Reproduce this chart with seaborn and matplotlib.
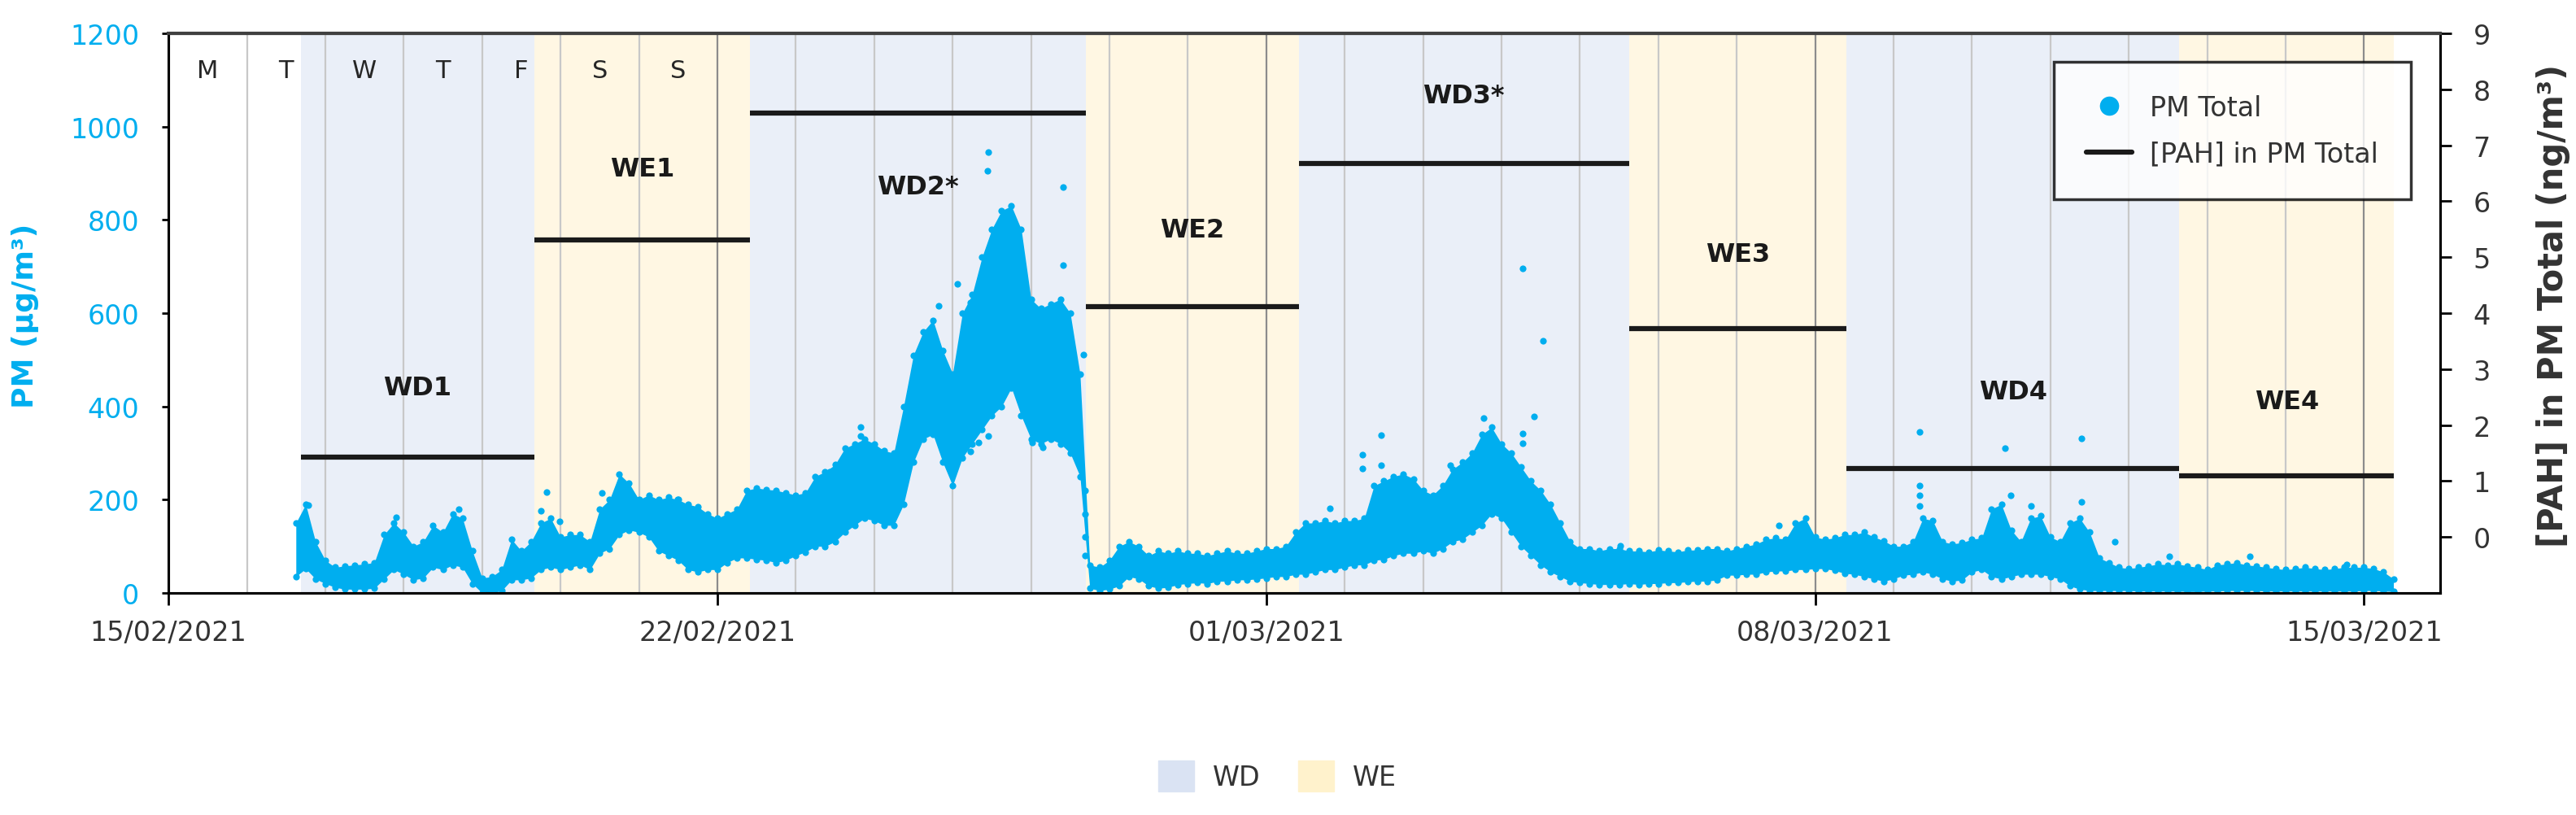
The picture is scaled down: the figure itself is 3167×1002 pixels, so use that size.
import pandas as pd
import seaborn as sns
import matplotlib.pyplot as plt
import matplotlib.dates as mdates
from matplotlib.lines import Line2D
from matplotlib.patches import Patch

# PM Total band, every 3 h from 16/02 15:00 (lower / upper edge, ug/m3)
pm_low = [35, 52, 30, 20, 12, 8, 8, 8, 10, 30, 50, 40, 28, 32, 55, 50, 60, 55, 20, 0,
          0, 5, 28, 28, 32, 50, 55, 50, 55, 60, 50, 85, 95, 125, 135, 130, 120,
          90, 80, 70, 50, 45, 50, 50, 65, 75, 75, 72, 70, 65, 70, 80, 88, 100, 100,
          110, 130, 145, 160, 155, 145, 145, 190, 280, 330, 340, 280, 230, 290, 320, 350, 380, 400,
          440, 380, 330, 320, 330, 320, 300, 250, 10, 5, 8, 15, 35, 30, 15, 10, 12, 18,
          20, 22, 20, 25, 25, 28, 28, 30, 32, 35, 35, 40, 40, 45, 50, 50, 55, 60, 60,
          70, 72, 80, 85, 85, 90, 85, 95, 110, 115, 130, 145, 170, 160, 130, 100, 80, 60,
          45, 35, 25, 22, 20, 18, 18, 18, 20, 18, 20, 20, 22, 22, 24, 25, 25, 28,
          38, 38, 40, 40, 45, 47, 47, 50, 50, 52, 52, 48, 42, 40, 35, 30, 25, 30, 38,
          40, 45, 40, 30, 25, 28, 45, 50, 35, 30, 35, 40, 40, 40, 35, 30, 15, 8,
          5, 5, 5, 5, 5, 4, 4, 4, 4, 4, 3, 3, 4, 4, 5, 5, 5, 5, 4, 4, 4, 4, 4, 4, 4, 4,
          4, 4, 5, 5, 4, 3]
pm_high = [150, 190, 110, 70, 55, 58, 60, 62, 65, 125, 150, 130, 100, 110, 145, 130, 170, 160, 90, 32,
           35, 50, 115, 90, 110, 150, 160, 120, 125, 125, 110, 180, 200, 255, 235, 200, 210,
           200, 205, 200, 190, 185, 170, 160, 170, 180, 220, 225, 222, 220, 215, 210, 215, 250, 260,
           275, 310, 320, 330, 320, 305, 300, 400, 510, 560, 585, 520, 470, 600, 640, 720, 780, 820,
           830, 780, 630, 610, 620, 630, 600, 470, 60, 55, 70, 100, 110, 100, 80, 90, 85, 90,
           85, 85, 80, 85, 90, 85, 85, 90, 95, 95, 100, 130, 150, 150, 155, 150, 155, 155, 160,
           230, 240, 250, 255, 245, 220, 210, 230, 265, 280, 300, 340, 355, 320, 300, 270, 240, 220,
           190, 150, 110, 95, 95, 90, 95, 95, 90, 90, 88, 92, 90, 88, 92, 92, 95, 95,
           90, 95, 100, 105, 115, 118, 115, 150, 160, 120, 115, 118, 125, 125, 130, 120, 112, 100, 100,
           110, 160, 155, 110, 105, 108, 115, 118, 180, 190, 135, 110, 160, 165, 120, 110, 150, 160,
           130, 75, 65, 55, 52, 55, 58, 62, 60, 62, 58, 55, 50, 60, 62, 65, 60, 58, 55, 52,
           50, 52, 55, 52, 50, 52, 55, 55, 55, 52, 45, 30]

# isolated PM points (days after 15/02/2021 00:00, ug/m3)
outlier_day = [1.78, 2.90, 3.70, 4.75, 4.82, 4.99, 5.53, 6.49, 7.19, 8.30, 8.43, 8.83, 8.83,
               9.82, 10.06, 10.23, 10.44, 10.46, 10.23, 10.33, 10.46, 11.41, 11.41, 11.67,
               11.69, 11.69, 11.69, 11.69, 11.01, 11.15, 14.81, 15.23, 15.23, 15.47, 15.47,
               16.35, 16.77, 17.27, 17.53, 17.42, 17.27, 17.27, 18.52, 20.54, 22.33, 22.33,
               22.33, 22.33, 23.42, 23.49, 23.75, 24.40, 24.40, 24.82, 25.52, 26.54, 27.78]
outlier_pm = [189, 163, 180, 177, 216, 154, 215, 201, 161, 234, 260, 356, 336,
              616, 662, 623, 906, 946, 303, 323, 336, 870, 703, 511,
              220, 170, 120, 80, 323, 313, 181, 297, 267, 339, 273,
              273, 375, 696, 540, 378, 342, 321, 102, 145, 346, 230,
              209, 186, 311, 209, 186, 331, 195, 110, 78, 78, 61]

# campaign periods and mean [PAH] (ng/m3)
periods = ['WD1', 'WE1', 'WD2*', 'WE2', 'WD3*', 'WE3', 'WD4', 'WE4']
period_start = ['2021-02-16 16:30', '2021-02-19 16:00', '2021-02-22 10:00', '2021-02-26 16:45',
                '2021-03-01 10:00', '2021-03-05 15:00', '2021-03-08 09:40', '2021-03-12 15:30']
period_end = period_start[1:] + ['2021-03-15 09:10']
pah = [1.43, 5.31, 7.58, 4.11, 6.67, 3.72, 1.22, 1.09]
label_y = [440, 910, 872, 778, 1067, 726, 431, 410]
day_letters = ['M', 'T', 'W', 'T', 'F', 'S', 'S']

PM_C = '#00aeef'
WD_C = '#dae3f3'
WE_C = '#fff2cc'

sns.set_theme(style='white')
plt.rcParams['font.family'] = ['DejaVu Sans']

t0 = pd.Timestamp('2021-02-15')
pm = pd.DataFrame({'time': pd.date_range('2021-02-16 15:00', periods=len(pm_low), freq='3h'),
                   'low': pm_low, 'high': pm_high})
edge = pd.concat([pm[['time', 'low']].rename(columns={'low': 'pm'}),
                  pm[['time', 'high']].rename(columns={'high': 'pm'})])
out = pd.DataFrame({'time': t0 + pd.to_timedelta(outlier_day, unit='D'), 'pm': outlier_pm})
per = pd.DataFrame({'name': periods, 'start': pd.to_datetime(period_start),
                    'end': pd.to_datetime(period_end), 'pah': pah, 'ly': label_y})
per['mid'] = per['start'] + (per['end'] - per['start']) / 2

fig = plt.figure(figsize=(31.67, 10.03), dpi=100)
ax = fig.add_axes([0.0654, 0.2722, 0.8819, 0.6859])

for _, r in per.iterrows():
    ax.axvspan(r['start'], r['end'], color=WD_C if r['name'].startswith('WD') else WE_C,
               alpha=0.55, lw=0, zorder=0.1)

ax.fill_between(pm['time'], pm['low'], pm['high'], color=PM_C, lw=0, zorder=2)
sns.scatterplot(data=edge, x='time', y='pm', color=PM_C, s=35, linewidth=0, ax=ax, zorder=3)
sns.scatterplot(data=out, x='time', y='pm', color=PM_C, s=35, linewidth=0, ax=ax, zorder=3)

for i, d in enumerate(day_letters):
    ax.text(t0 + pd.Timedelta(hours=12 + 24 * i), 1120, d, ha='center', va='center',
            fontsize=22, color='#262626')
for _, r in per.iterrows():
    ax.text(r['mid'], r['ly'], r['name'], ha='center', va='center', fontsize=23,
            fontweight='bold', color='#1a1a1a', zorder=4)

ax.set_xlim(t0, pd.Timestamp('2021-03-15 23:20'))
ax.set_ylim(0, 1200)
ax.set_yticks(range(0, 1201, 200))
ax.xaxis.set_major_locator(mdates.WeekdayLocator(byweekday=mdates.MO))
ax.xaxis.set_minor_locator(mdates.DayLocator())
ax.xaxis.set_major_formatter(mdates.DateFormatter('%d/%m/%Y'))
ax.set_axisbelow(True)
ax.grid(which='major', axis='x', color='#8c8c8c', lw=1.6)
ax.grid(which='minor', axis='x', color='#c8c8c8', lw=1.6)
ax.grid(which='major', axis='y', visible=False)
ax.tick_params(axis='x', which='major', direction='out', length=11, width=2, color='black',
               labelsize=24, labelcolor='#333333', pad=12, bottom=True)
ax.tick_params(axis='x', which='minor', length=0)
ax.tick_params(axis='y', direction='out', length=6, width=2, color='black',
               labelsize=24, labelcolor=PM_C, pad=20, left=True)
ax.set_xlabel('')
ax.set_ylabel('PM (µg/m³)', color=PM_C, fontsize=26, fontweight='bold')
ax.yaxis.set_label_coords(-0.057, 0.497)

ax2 = ax.twinx()
ax2.hlines(per['pah'], per['start'], per['end'], color='#1a1a1a', lw=4.5, zorder=5)
ax2.set_ylim(-1, 9)
ax2.set_yticks(range(0, 10))
ax2.grid(False)
ax2.tick_params(axis='y', direction='out', length=10, width=2, color='black',
                labelsize=24, labelcolor='#333333', pad=19, right=True)
ax2.set_ylabel('[PAH] in PM Total (ng/m³)', color='#333333', fontsize=30, fontweight='bold')
ax2.yaxis.set_label_coords(1.0422, 0.515)

for a in (ax, ax2):
    for s in a.spines.values():
        s.set_color('black')
        s.set_linewidth(2.2)
ax2.spines['top'].set_color('#404040')
ax2.spines['top'].set_linewidth(3)

handles = [Line2D([], [], marker='o', ls='none', color=PM_C, markersize=16),
           Line2D([], [], color='#1a1a1a', lw=4.5)]
leg = ax2.legend(handles, ['PM Total', '[PAH] in PM Total'], loc='upper right',
                 bbox_to_anchor=(0.987, 0.949), borderaxespad=0, fontsize=24, frameon=True,
                 fancybox=False, edgecolor='black', borderpad=1.2, labelspacing=0.7,
                 handlelength=1.7, handletextpad=0.65)
leg.get_frame().set_linewidth(2.5)
for t in leg.get_texts():
    t.set_color('#333333')

fig.legend(handles=[Patch(color=WD_C), Patch(color=WE_C)], labels=['WD', 'WE'], loc='center',
           bbox_to_anchor=(0.496, 0.048), ncol=2, frameon=False, fontsize=24,
           handlelength=1.3, handleheight=1.35, handletextpad=0.7, columnspacing=1.4,
           labelcolor='#333333')

fig.savefig('out.png', dpi=100)
